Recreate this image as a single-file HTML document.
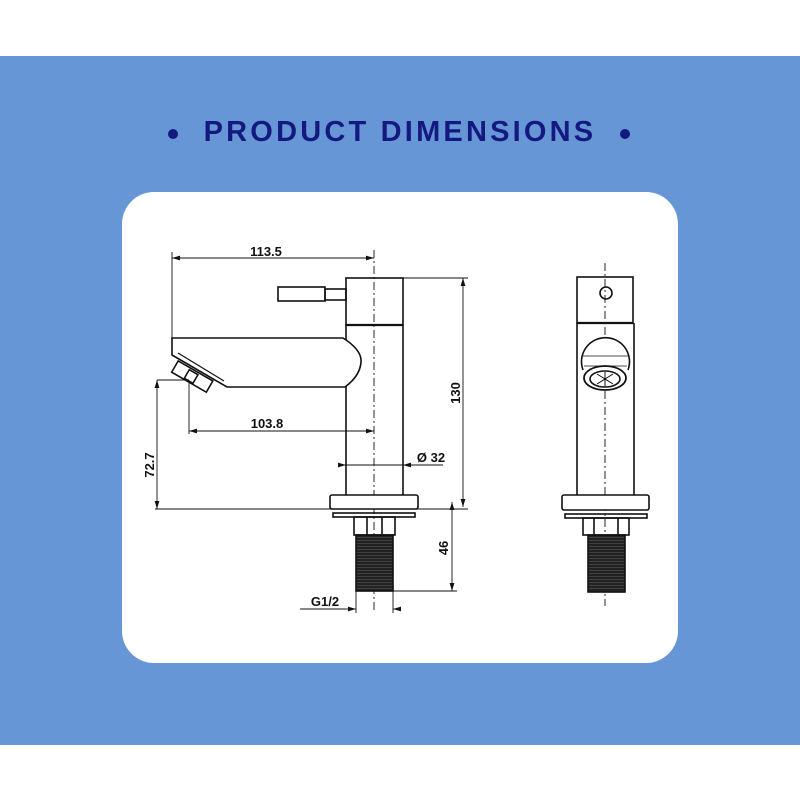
<!DOCTYPE html>
<html><head><style>
html,body{margin:0;padding:0;background:#fff;}
.wrap{position:relative;width:800px;height:800px;overflow:hidden;background:#fff;}
.band{position:absolute;left:0;top:56px;width:800px;height:689px;background:#6796d6;}
.title{position:absolute;left:200px;top:116px;width:400px;text-align:center;font-family:"Liberation Sans",sans-serif;font-weight:bold;font-size:29px;letter-spacing:3.2px;color:#14197f;white-space:nowrap;}
.dot{position:absolute;width:10px;height:10px;border-radius:50%;background:#14197f;top:129px;}
.card{position:absolute;left:122px;top:192px;width:556px;height:471px;background:#fff;border-radius:32px;}
svg{position:absolute;left:0;top:0;}
</style></head><body><div class="wrap">
<div class="band"></div>
<div class="dot" style="left:168px"></div>
<div class="dot" style="left:620px"></div>
<div class="title">PRODUCT DIMENSIONS</div>
<div class="card"></div>
<svg width="800" height="800" viewBox="0 0 800 800">
<defs>
<marker id="a" viewBox="0 0 10 10" refX="10" refY="5" markerWidth="9" markerHeight="9" orient="auto-start-reverse"><path d="M0,2 L10,5 L0,8z" fill="#111"/></marker>
<pattern id="th" width="4" height="3" patternUnits="userSpaceOnUse"><rect width="4" height="3" fill="#222"/><line x1="0" y1="0.5" x2="4" y2="0.5" stroke="#555" stroke-width="0.6"/></pattern>
</defs>
<g fill="none" stroke="#111" stroke-width="1.6">
<line x1="374" y1="250" x2="374" y2="612" stroke-dasharray="8,3,2,3" stroke-width="0.9"/>
<line x1="605" y1="263" x2="605" y2="606" stroke-dasharray="8,3,2,3" stroke-width="0.9"/>
<rect x="346" y="278" width="57" height="47"/>
<line x1="346" y1="325" x2="403" y2="325" stroke-width="2.2"/>
<rect x="278" y="287" width="47" height="14"/>
<rect x="325" y="289" width="21" height="11"/>
<line x1="346" y1="325" x2="346" y2="495"/>
<line x1="403" y1="325" x2="403" y2="495"/>
<path d="M172,338 L343,338 Q362,350 361,362 Q360,376 345,387 L227,387 L172,355 Z" fill="#fff"/>
<path d="M178,353 L224,381" stroke-width="1.2"/>
<g transform="translate(192,377) rotate(30)"><rect x="-20" y="-7" width="40" height="13" fill="#fff"/><rect x="-6" y="-5" width="10" height="10"/></g>
<rect x="330" y="495" width="88" height="14" rx="2" fill="#fff"/>
<rect x="333" y="513" width="82" height="4"/>
<rect x="354" y="517" width="41" height="18"/>
<line x1="367" y1="517" x2="367" y2="535"/><line x1="382" y1="517" x2="382" y2="535"/>
<rect x="356" y="535" width="37" height="56" fill="url(#th)"/>
<rect x="577" y="277" width="56" height="46"/>
<line x1="577" y1="323" x2="633" y2="323" stroke-width="2.2"/>
<circle cx="606" cy="293" r="6"/>
<line x1="577" y1="323" x2="577" y2="495"/>
<line x1="634" y1="323" x2="634" y2="495"/>
<path d="M583,370 A24,24 0 1 1 628,370" fill="#fff"/>
<line x1="583" y1="356" x2="628" y2="356" stroke-width="0.8"/>
<line x1="584" y1="366" x2="627" y2="366" stroke-width="0.8"/>
<ellipse cx="605" cy="378" rx="21" ry="12" fill="#fff" stroke-width="1.8"/>
<ellipse cx="605" cy="379" rx="15" ry="8"/>
<path d="M597,374 L613,384 M613,374 L597,384 M605,372 L605,386" stroke-width="1"/>
<rect x="562" y="495" width="87" height="15" rx="2" fill="#fff"/>
<rect x="565" y="514" width="82" height="4"/>
<rect x="583" y="518" width="46" height="17"/>
<line x1="594" y1="518" x2="594" y2="535"/><line x1="618" y1="518" x2="618" y2="535"/>
<rect x="588" y="535" width="37" height="57" fill="url(#th)"/>
<g stroke-width="0.9">
<line x1="172" y1="252" x2="172" y2="338"/>
<line x1="172" y1="258" x2="374" y2="258" marker-start="url(#a)" marker-end="url(#a)"/>
<line x1="403" y1="278" x2="468" y2="278"/>
<line x1="463" y1="278" x2="463" y2="507" marker-start="url(#a)" marker-end="url(#a)"/>
<line x1="155" y1="509" x2="468" y2="509"/>
<line x1="157" y1="380" x2="189" y2="380"/>
<line x1="157" y1="380" x2="157" y2="509" marker-start="url(#a)" marker-end="url(#a)"/>
<line x1="189" y1="383" x2="189" y2="434"/>
<line x1="189" y1="431" x2="374" y2="431" marker-start="url(#a)" marker-end="url(#a)"/>
<line x1="338" y1="465" x2="346" y2="465" marker-end="url(#a)"/>
<line x1="443" y1="465" x2="403" y2="465" marker-end="url(#a)"/>
<line x1="346" y1="465" x2="403" y2="465"/>
<line x1="393" y1="591" x2="457" y2="591"/>
<line x1="452" y1="502" x2="452" y2="591" marker-start="url(#a)" marker-end="url(#a)"/>
<line x1="356" y1="591" x2="356" y2="613"/>
<line x1="393" y1="591" x2="393" y2="613"/>
<line x1="346" y1="609" x2="356" y2="609" marker-end="url(#a)"/>
<line x1="401" y1="609" x2="393" y2="609" marker-end="url(#a)"/>
<line x1="300" y1="609" x2="346" y2="609"/>
</g>
</g>
<g font-family="Liberation Sans, sans-serif" font-weight="bold" font-size="13" fill="#111" text-anchor="middle">
<text x="266" y="256">113.5</text>
<text x="267" y="428">103.8</text>
<text x="431" y="462">Ø 32</text>
<text x="325" y="606">G1/2</text>
<text transform="translate(460,393) rotate(-90)">130</text>
<text transform="translate(448,548) rotate(-90)">46</text>
<text transform="translate(154,465) rotate(-90)">72.7</text>
</g>
</svg>
</div></body></html>
